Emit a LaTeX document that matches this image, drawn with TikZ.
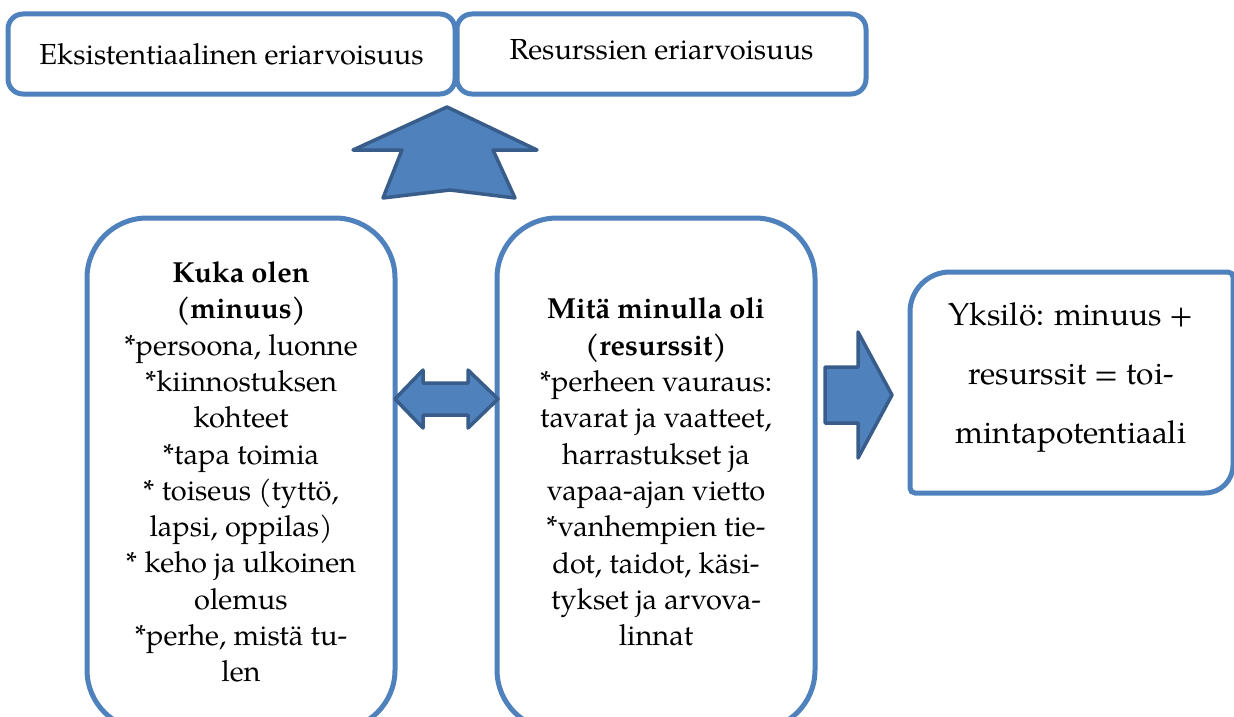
\documentclass[tikz,border=0pt]{standalone}
\usepackage{fontspec}
\setmainfont{TeX Gyre Pagella}
\definecolor{boxblue}{HTML}{4F81BD}
\definecolor{arrowedge}{HTML}{385D8A}
\begin{document}
\begin{tikzpicture}[x=1pt,y=-1pt,
  frame/.style={draw=boxblue, line width=5pt, fill=white},
  txt/.style={align=center, font=\fontsize{29}{36.3}\selectfont, inner sep=0pt},
  bigtxt/.style={align=center, font=\fontsize{31.6}{59}\selectfont, inner sep=0pt},
  blockarrow/.style={fill=boxblue, draw=arrowedge, line width=3.5pt, line join=round}]
\clip (0,0) rectangle (1234,717);
% top boxes
\node[frame, rounded corners=15pt, minimum width=447pt, minimum height=80pt] (ek) at (231.5,54) {};
\node[txt] (ektxt) at (231.5,54) {Eksistentiaalinen eriarvoisuus};
\node[frame, rounded corners=15pt, minimum width=409pt, minimum height=80pt] (re) at (661.5,54) {};
\node[txt] (retxt) at (661.5,50) {Resurssien eriarvoisuus};
% up arrow
\draw[blockarrow] (447,107) -- (537,150) -- (493,150) -- (515,198) -- (450,190) -- (383,198) -- (402,150) -- (353,150) -- cycle;
% lower boxes
\node[frame, rounded corners=60pt, minimum width=308pt, minimum height=512pt] (kuka) at (241,474) {};
\node[txt] (kukatxt) at (241,472) {\textbf{Kuka olen}\\\textbf{(minuus)}\\*persoona, luonne\\*kiinnostuksen\\kohteet\\*tapa toimia\\* toiseus (tyttö,\\lapsi, oppilas)\\* keho ja ulkoinen\\olemus\\*perhe, mistä tu-\\len};
\node[frame, rounded corners=60pt, minimum width=318pt, minimum height=512pt] (mita) at (656,474) {};
\node[txt] (mitatxt) at (656,472) {\textbf{Mitä minulla oli}\\\textbf{(resurssit)}\\*perheen vauraus:\\tavarat ja vaatteet,\\harrastukset ja\\vapaa-ajan vietto\\*vanhempien tie-\\dot, taidot, käsi-\\tykset ja arvova-\\linnat};
% double arrow
\draw[blockarrow] (395,399) -- (423,370) -- (423,383) -- (468,383) -- (468,370) -- (498,399) -- (468,428) -- (468,415) -- (423,415) -- (423,428) -- cycle;
% right arrow
\draw[blockarrow] (825,367) -- (858,367) -- (858,332) -- (892,395) -- (858,458) -- (858,423) -- (825,423) -- cycle;
% right box
\draw[frame] (910,312) .. controls (910,289.9) and (927.9,272) .. (950,272) -- (1228,272) .. controls (1230.8,272) and (1233,274.2) .. (1233,277) -- (1233,465) .. controls (1233,480.5) and (1220.5,493) .. (1205,493) -- (915,493) .. controls (912.2,493) and (910,490.8) .. (910,488) -- cycle;
\node[bigtxt] (yks) at (1071,377) {Yksilö: minuus +\\resurssit = toi-\\mintapotentiaali};
\end{tikzpicture}
\end{document}
